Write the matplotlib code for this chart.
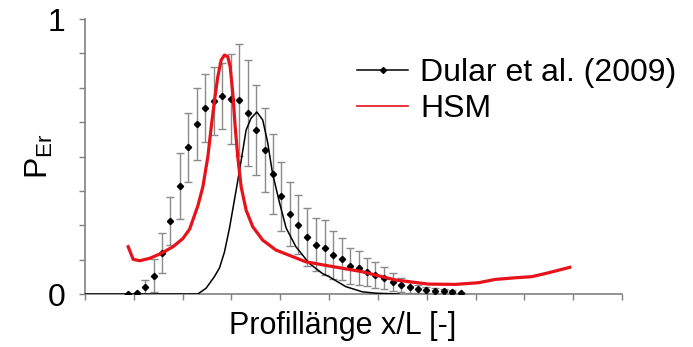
import numpy as np
import matplotlib
matplotlib.use('Agg')
import matplotlib.pyplot as plt
from matplotlib.lines import Line2D

plt.rcParams['font.family'] = ['Liberation Sans', 'DejaVu Sans']
plt.rcParams['mathtext.fontset'] = 'custom'
plt.rcParams['mathtext.rm'] = 'Liberation Sans'

# Dular et al. (2009) measured points with error bars
dular_x = [0.088, 0.107, 0.123, 0.142, 0.157, 0.175, 0.194, 0.211, 0.229, 0.246,
           0.264, 0.281, 0.299, 0.316, 0.334, 0.351, 0.369, 0.385, 0.402, 0.420,
           0.437, 0.455, 0.473, 0.491, 0.509, 0.527, 0.543, 0.561, 0.578, 0.595,
           0.613, 0.631, 0.648, 0.665, 0.682, 0.699, 0.716, 0.735, 0.752, 0.770]
dular_y = [0.000, 0.005, 0.024, 0.067, 0.150, 0.267, 0.394, 0.533, 0.618, 0.677,
           0.703, 0.719, 0.709, 0.705, 0.659, 0.596, 0.524, 0.436, 0.355, 0.290,
           0.252, 0.208, 0.179, 0.169, 0.142, 0.126, 0.103, 0.096, 0.081, 0.069,
           0.057, 0.045, 0.033, 0.024, 0.017, 0.015, 0.011, 0.010, 0.007, 0.003]
dular_err = [0.0, 0.0, 0.028, 0.059, 0.072, 0.087, 0.120, 0.124, 0.131, 0.124,
             0.124, 0.120, 0.164, 0.204, 0.193, 0.164, 0.153, 0.145, 0.125, 0.116,
             0.107, 0.105, 0.096, 0.100, 0.086, 0.076, 0.065, 0.062, 0.051, 0.047,
             0.040, 0.033, 0.025, 0.020, 0.015, 0.012, 0.010, 0.008, 0.006, 0.0]

# Dular et al. (2009) curve
curve_x = [0.0, 0.231, 0.248, 0.265, 0.2755, 0.2857, 0.296, 0.3096, 0.320, 0.330,
           0.340, 0.352, 0.364, 0.374, 0.384, 0.398, 0.412, 0.432, 0.459, 0.486,
           0.500, 0.534, 0.568, 0.595, 0.643]
curve_y = [0.0, 0.0, 0.021, 0.063, 0.095, 0.153, 0.240, 0.378, 0.487, 0.596,
           0.639, 0.662, 0.633, 0.553, 0.440, 0.335, 0.240, 0.172, 0.112, 0.075,
           0.063, 0.027, 0.008, 0.003, 0.0]

# HSM
hsm_x = [0.0884, 0.0986, 0.1122, 0.1327, 0.1565, 0.1802, 0.2006, 0.2143, 0.2312,
         0.2414, 0.2516, 0.2586, 0.2653, 0.2720, 0.2790, 0.2857, 0.2924, 0.2973,
         0.3027, 0.3076, 0.3129, 0.3198, 0.330, 0.3435, 0.3639, 0.391, 0.4524,
         0.500, 0.568, 0.636, 0.704, 0.759, 0.806, 0.840, 0.881, 0.915, 0.949, 0.993]
hsm_y = [0.172, 0.126, 0.121, 0.130, 0.148, 0.172, 0.202, 0.236, 0.321,
         0.390, 0.499, 0.608, 0.705, 0.790, 0.851, 0.869, 0.863, 0.827,
         0.730, 0.608, 0.499, 0.390, 0.305, 0.245, 0.196, 0.160, 0.117,
         0.102, 0.081, 0.051, 0.036, 0.035, 0.041, 0.053, 0.059, 0.063, 0.077, 0.097]

fig = plt.figure(figsize=(6.93, 3.47), dpi=100)
ax = fig.add_axes([0.1227, 0.1527, 0.7748, 0.7925])

ax.errorbar(dular_x, dular_y, yerr=dular_err, fmt='none', ecolor='#8a8a8a',
            elinewidth=1.0, capsize=3, capthick=1.0, zorder=2)
ax.plot(dular_x, dular_y, 'D', color='black', ms=3.2, zorder=4)
ax.plot(curve_x, curve_y, color='black', lw=1.1, zorder=3)
ax.plot(hsm_x, hsm_y, color='#e8121b', lw=2.3, zorder=5)

ax.set_xlim(0, 1.1)
ax.set_ylim(0, 1)
ax.set_xticks(np.arange(0, 1.101, 0.1))
ax.set_xticklabels([])
ax.set_yticks(np.arange(0, 1.001, 0.125))
ax.set_yticklabels(['0'] + [''] * 7 + ['1'])
ax.tick_params(axis='both', direction='out', length=4, width=1, color='#808080',
               labelsize=23, pad=10)
for s in ['top', 'right']:
    ax.spines[s].set_visible(False)
for s in ['left', 'bottom']:
    ax.spines[s].set_color('#808080')
    ax.spines[s].set_linewidth(1.2)

ax.set_xlabel('Profillänge x/L [-]', fontsize=22)
ax.xaxis.set_label_coords(0.48, -0.06)
ax.set_ylabel(r'P$_{\mathrm{Er}}$', fontsize=23, labelpad=-5)

handles = [Line2D([], [], color='black', lw=1.1, marker='D', ms=3),
           Line2D([], [], color='#e8121b', lw=1.2)]
ax.legend(handles, ['Dular et al. (2009)', 'HSM'], loc='upper left',
          bbox_to_anchor=(357 / 693, 1 - 58 / 347), bbox_transform=fig.transFigure,
          frameon=False, fontsize=23, handlelength=1.6, handletextpad=0.37,
          labelspacing=0.18, borderpad=0, borderaxespad=0)

fig.savefig('out.png', dpi=100)
